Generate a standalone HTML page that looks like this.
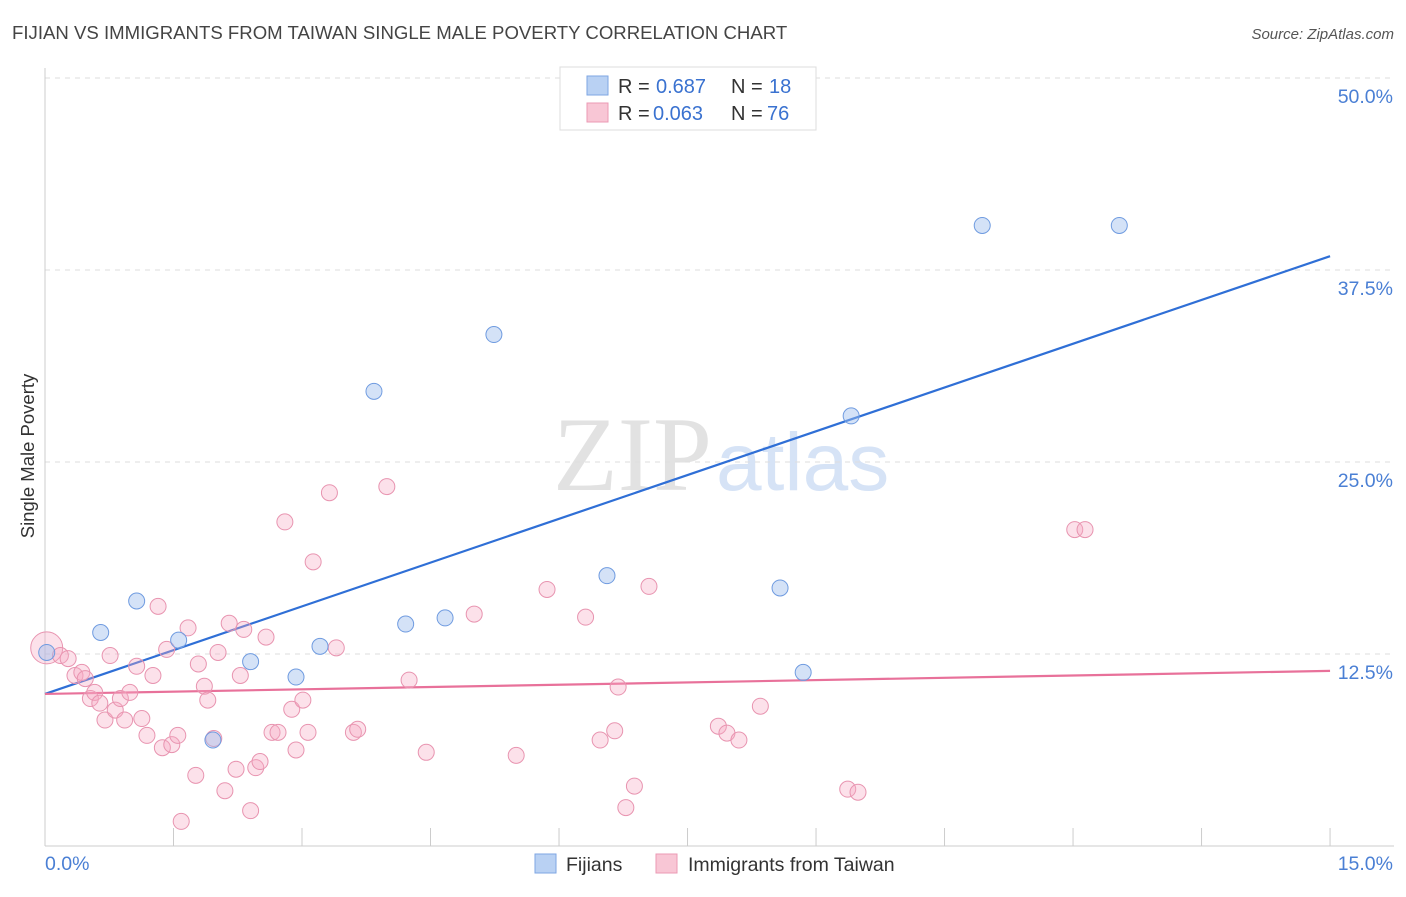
<!DOCTYPE html>
<html><head><meta charset="utf-8"><style>
body{margin:0;background:#fff;font-family:"Liberation Sans",sans-serif;}
svg text{font-family:"Liberation Sans",sans-serif;}
</style></head><body>
<svg id="chart" width="1406" height="892" xmlns="http://www.w3.org/2000/svg">
<text x="12" y="39" font-size="18.6" fill="#444">FIJIAN VS IMMIGRANTS FROM TAIWAN SINGLE MALE POVERTY CORRELATION CHART</text>
<text x="1394" y="39" font-size="15" fill="#555" text-anchor="end" font-style="italic">Source: ZipAtlas.com</text>
<text x="553" y="490" font-size="106" fill="#e2e2e2" style="font-family:'Liberation Serif',serif">ZIP</text>
<text x="716" y="490" font-size="82" fill="#d6e3f6">atlas</text>
<text transform="translate(34,456) rotate(-90)" font-size="18.5" fill="#333" text-anchor="middle">Single Male Poverty</text>
<g id="grid"></g><g id="axes"></g><g id="lines"></g><g id="pts"></g>
<g>
<rect x="560" y="67" width="256" height="63" fill="#fff" stroke="#ddd"/>
<rect x="587" y="76" width="21" height="19" fill="#b9d1f3" stroke="#7ea6e3"/>
<rect x="587" y="103" width="21" height="19" fill="#f8c6d5" stroke="#eb9ab4"/>
<text x="618" y="93" font-size="20" fill="#333">R =</text>
<text x="656" y="93" font-size="20" fill="#3a72d0">0.687</text>
<text x="731" y="93" font-size="20" fill="#333">N =</text>
<text x="769" y="93" font-size="20" fill="#3a72d0">18</text>
<text x="618" y="120" font-size="20" fill="#333">R =</text>
<text x="653" y="120" font-size="20" fill="#3a72d0">0.063</text>
<text x="731" y="120" font-size="20" fill="#333">N =</text>
<text x="767" y="120" font-size="20" fill="#3a72d0">76</text>
</g>
<g>
<rect x="535" y="854" width="21" height="19" fill="#b9d1f3" stroke="#7ea6e3"/>
<text x="566" y="871" font-size="19.5" fill="#333">Fijians</text>
<rect x="656" y="854" width="21" height="19" fill="#f8c6d5" stroke="#eb9ab4"/>
<text x="688" y="871" font-size="19.5" fill="#333">Immigrants from Taiwan</text>
</g>
</svg>
<script>
const blueX=[0.02,0.65,1.07,1.56,1.96,2.40,2.93,3.21,3.84,4.21,4.67,5.24,6.56,8.58,8.85,9.41,10.94,12.54];
const blueY=[12.6,13.9,15.95,13.4,6.9,12.0,11.0,13.0,29.6,14.45,14.85,33.3,17.6,16.8,11.3,28.0,40.4,40.4];
const pinkX=[0.02,0.18,0.27,0.35,0.43,0.47,0.53,0.58,0.64,0.70,0.76,0.82,0.88,0.93,0.99,1.07,1.13,1.19,1.26,1.32,1.37,1.42,1.48,1.55,1.59,1.67,1.76,1.79,1.86,1.90,1.97,2.02,2.10,2.15,2.23,2.28,2.32,2.40,2.46,2.51,2.58,2.65,2.72,2.80,2.88,2.93,3.01,3.07,3.13,3.32,3.40,3.60,3.65,3.99,4.25,4.45,5.01,5.50,5.86,6.31,6.48,6.65,6.69,6.78,6.88,7.05,7.86,7.96,8.10,8.35,9.37,9.49,12.02,12.14];
const pinkY=[12.9,12.4,12.2,11.1,11.3,10.9,9.6,10.0,9.3,8.2,12.4,8.85,9.6,8.2,10.0,11.7,8.3,7.2,11.1,15.6,6.4,12.8,6.6,7.2,1.6,14.2,4.6,11.85,10.4,9.5,7.0,12.6,3.6,14.5,5.0,11.1,14.1,2.3,5.1,5.5,13.6,7.4,7.4,21.1,8.9,6.25,9.5,7.4,18.5,23.0,12.9,7.4,7.6,23.4,10.8,6.1,15.1,5.9,16.7,14.9,6.9,7.5,10.35,2.5,3.9,16.9,7.8,7.35,6.9,9.1,3.7,3.5,20.6,20.6];
const blueTrend=[9.9,38.4];
const pinkTrend=[9.9,11.4];
const yTicks=[12.5,25.0,37.5,50.0];
const xTicks=[0,1.5,3,4.5,6,7.5,9,10.5,12,13.5,15];
const NS="http://www.w3.org/2000/svg";
const sx=v=>45+v*85.67, sy=v=>846-v*15.36;
function mk(parent,tag,attrs){const e=document.createElementNS(NS,tag);for(const k in attrs)e.setAttribute(k,attrs[k]);document.getElementById(parent).appendChild(e);return e;}
yTicks.forEach(t=>{
 const l=mk('grid','line',{x1:45,x2:1394,y1:sy(t),y2:sy(t),stroke:'#ddd','stroke-dasharray':'5,5'});
 
 
 const tx=mk('grid','text',{x:1393,y:sy(t)+25,'font-size':19.5,fill:'#4a7fd4','text-anchor':'end'});
 tx.textContent=t.toFixed(1)+'%';
 
 
});
const xa=mk('axes','line',{x1:45,x2:1394,y1:846,y2:846,stroke:'#ccc'});


const ya=mk('axes','line',{x1:45,x2:45,y1:68,y2:846,stroke:'#ccc'});


xTicks.forEach(t=>{
 const l=mk('axes','line',{x1:sx(t),x2:sx(t),y1:828,y2:846,stroke:'#ccc'});
 
 
});
[[0,'start'],[15,'end']].forEach(([t,a])=>{
 const tx=mk('axes','text',{x:t===0?45:1393,y:870,'font-size':19.5,fill:'#4a7fd4','text-anchor':a});
 tx.textContent=t.toFixed(1)+'%';
 
 
});
pinkX.forEach((x,i)=>{
 const c=mk('pts','circle',{cx:sx(x),cy:sy(pinkY[i]),r:i===0?16:8,fill:'rgba(245,170,195,0.35)',stroke:'#e894b0','stroke-width':1});
 
 
});
blueX.forEach((x,i)=>{
 const c=mk('pts','circle',{cx:sx(x),cy:sy(blueY[i]),r:8,fill:'rgba(160,190,238,0.45)',stroke:'#6f9be0','stroke-width':1});
 
 
});
const bl=mk('lines','line',{x1:sx(0),x2:sx(15),y1:sy(blueTrend[0]),y2:sy(blueTrend[1]),stroke:'#2f6fd6','stroke-width':2.2});


const pl=mk('lines','line',{x1:sx(0),x2:sx(15),y1:sy(pinkTrend[0]),y2:sy(pinkTrend[1]),stroke:'#e8719a','stroke-width':2.2});


</script>
</body></html>
